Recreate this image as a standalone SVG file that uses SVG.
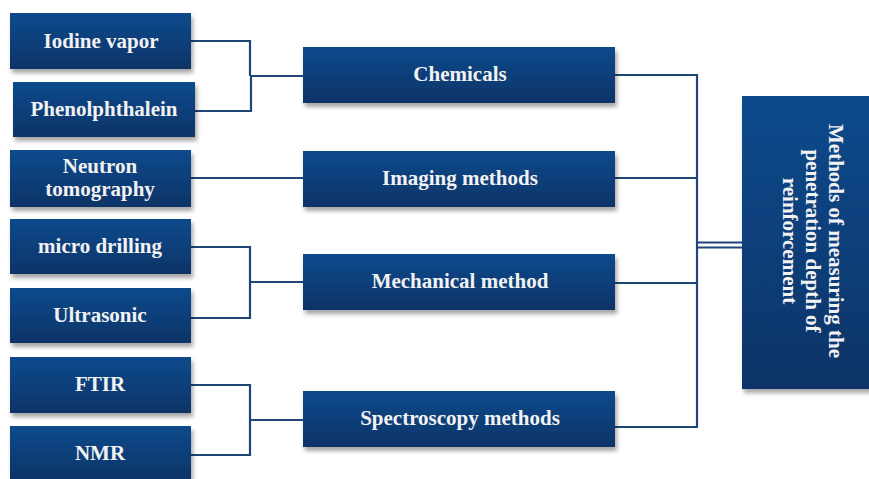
<svg xmlns="http://www.w3.org/2000/svg" width="869" height="479" viewBox="0 0 869 479">
<defs>
<linearGradient id="g" x1="0" y1="0" x2="0" y2="1">
<stop offset="0" stop-color="#114a8c"/>
<stop offset="0.5" stop-color="#0e3f7a"/>
<stop offset="1" stop-color="#0b3366"/>
</linearGradient>
<filter id="sh" x="-10%" y="-10%" width="125%" height="130%">
<feDropShadow dx="2" dy="4" stdDeviation="2.2" flood-color="#000" flood-opacity="0.35"/>
</filter>
<style>
.box{fill:url(#g);filter:url(#sh)}
.t{font-family:"Liberation Serif","Times New Roman",serif;font-weight:bold;font-size:21px;fill:#f2f2f2;text-anchor:middle}
.c{fill:none;stroke:#1f4677;stroke-width:2.2}
</style>
</defs>
<rect width="869" height="479" fill="#fff"/>
<g id="connectors">
<path class="c" d="M191,41 H250 V76 M195,111 H251 V76 M250,76 H303"/>
<path class="c" d="M191,178 H303"/>
<path class="c" d="M191,247 H250 V318 H191 M250,282 H303"/>
<path class="c" d="M191,385 H250 V455 H191 M250,420 H303"/>
<path class="c" d="M615,75 H697 V427 H615 M615,178 H697 M615,283 H697"/>
<path class="c" d="M697,242.5 H742 M697,247.5 H742"/>
</g>
<g id="iodine"><rect class="box" x="10" y="13" width="181" height="56"/><text class="t" x="101" y="48">Iodine vapor</text></g>
<g id="phenol"><rect class="box" x="13" y="82" width="182" height="55"/><text class="t" x="104" y="116">Phenolphthalein</text></g>
<g id="neutron"><rect class="box" x="10" y="150" width="181" height="57"/><text class="t" x="100" y="173">Neutron</text><text class="t" x="100" y="196">tomography</text></g>
<g id="micro"><rect class="box" x="10" y="219" width="181" height="55"/><text class="t" x="100" y="253">micro drilling</text></g>
<g id="ultra"><rect class="box" x="10" y="288" width="181" height="55"/><text class="t" x="100" y="322">Ultrasonic</text></g>
<g id="ftir"><rect class="box" x="10" y="357" width="181" height="56"/><text class="t" x="100" y="391">FTIR</text></g>
<g id="nmr"><rect class="box" x="10" y="426" width="181" height="55"/><text class="t" x="100" y="460">NMR</text></g>
<g id="chemicals"><rect class="box" x="303" y="47" width="312" height="56"/><text class="t" x="460" y="81">Chemicals</text></g>
<g id="imaging"><rect class="box" x="303" y="151" width="312" height="56"/><text class="t" x="460" y="185">Imaging methods</text></g>
<g id="mechanical"><rect class="box" x="303" y="254" width="312" height="56"/><text class="t" x="460" y="288">Mechanical method</text></g>
<g id="spectroscopy"><rect class="box" x="303" y="391" width="312" height="56"/><text class="t" x="460" y="425">Spectroscopy methods</text></g>
<g id="root"><rect class="box" x="742" y="96" width="130" height="293"/>
<g transform="translate(829,241) rotate(90)"><text class="t" x="0" y="0">Methods of measuring the</text><text class="t" x="0" y="23">penetration depth of</text><text class="t" x="0" y="46">reinforcement</text></g></g>
</svg>
